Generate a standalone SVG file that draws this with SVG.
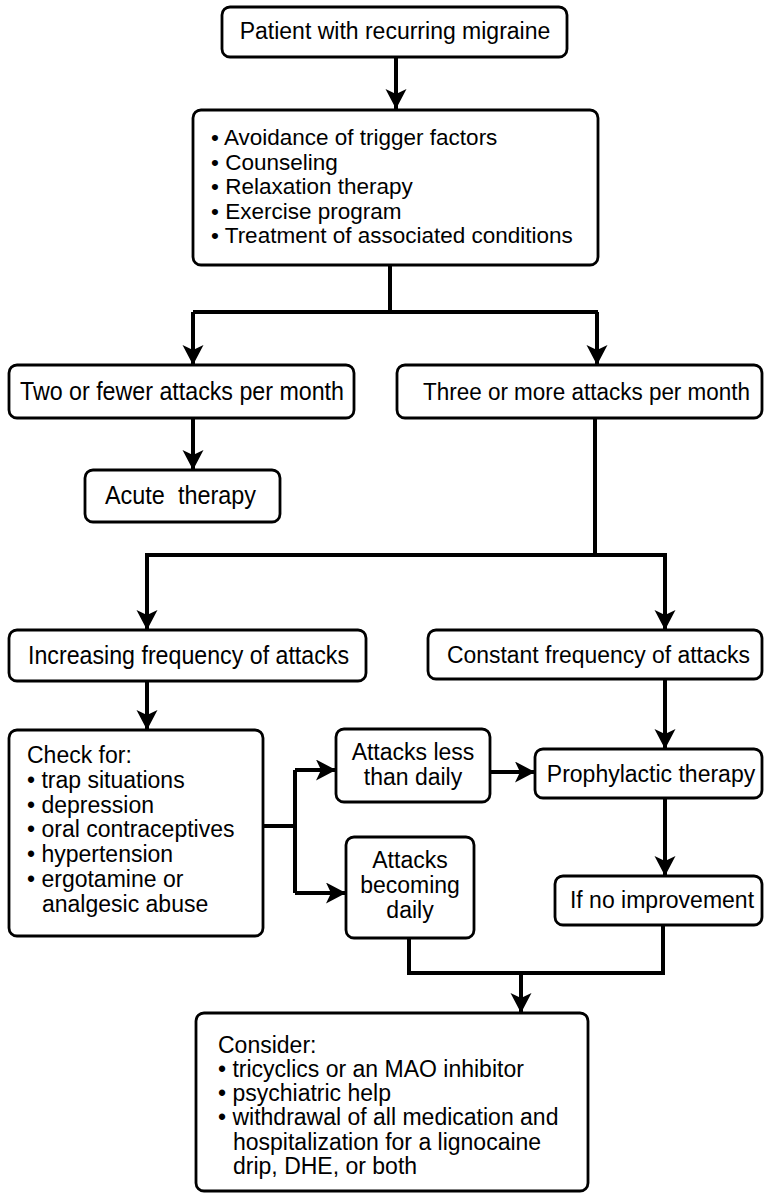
<svg xmlns="http://www.w3.org/2000/svg" width="765" height="1194" viewBox="0 0 765 1194">
<style>
.box{fill:#fff;stroke:#000;stroke-width:2.8}
.t{font-family:"Liberation Sans",Arial,sans-serif;font-size:23px;fill:#000}
.b{font-size:22.5px}
.k{font-family:"Liberation Sans",Arial,sans-serif;font-size:26px;fill:#000;white-space:pre}
.c{text-anchor:middle}
.cn{fill:none;stroke:#000;stroke-width:4;stroke-linejoin:miter}
</style>
<defs>
<marker id="ah" markerUnits="userSpaceOnUse" markerWidth="24" markerHeight="24" refX="20" refY="10.5" orient="auto">
<path d="M0,0 L20,10.5 L0,21 L5,10.5 z" fill="#000"/>
</marker>
</defs>
<rect width="765" height="1194" fill="#fff"/>
<g id="connectors">
<path class="cn" d="M396,57 V109" marker-end="url(#ah)"/>
<path class="cn" d="M390,265 V312"/>
<path class="cn" d="M193,312 H598"/>
<path class="cn" d="M193,312 V365" marker-end="url(#ah)"/>
<path class="cn" d="M597,312 V365" marker-end="url(#ah)"/>
<path class="cn" d="M193,418 V470" marker-end="url(#ah)"/>
<path class="cn" d="M595,418 V555"/>
<path class="cn" d="M145,555 H667"/>
<path class="cn" d="M147,555 V630" marker-end="url(#ah)"/>
<path class="cn" d="M665,555 V630" marker-end="url(#ah)"/>
<path class="cn" d="M147,681 V730" marker-end="url(#ah)"/>
<path class="cn" d="M665,679 V749" marker-end="url(#ah)"/>
<path class="cn" d="M263,826 H295"/>
<path class="cn" d="M295,770 V893"/>
<path class="cn" d="M295,770 H336" marker-end="url(#ah)"/>
<path class="cn" d="M295,893 H346" marker-end="url(#ah)"/>
<path class="cn" d="M490,772 H535" marker-end="url(#ah)"/>
<path class="cn" d="M665,798 V876" marker-end="url(#ah)"/>
<path class="cn" d="M409,938 V973 H663 V925"/>
<path class="cn" d="M521,973 V1013" marker-end="url(#ah)"/>
</g>
<g id="n1">
<rect class="box" x="222" y="7" width="345" height="50" rx="8"/>
<text class="t c" x="395" y="39">Patient with recurring migraine</text>
</g>
<g id="n2">
<rect class="box" x="193" y="110" width="405" height="155" rx="8"/>
<text class="t b" x="211" y="145">• Avoidance of trigger factors</text>
<text class="t b" x="211" y="169.5">• Counseling</text>
<text class="t b" x="211" y="194">• Relaxation therapy</text>
<text class="t b" x="211" y="218.5">• Exercise program</text>
<text class="t b" x="211" y="243">• Treatment of associated conditions</text>
</g>
<g id="n3">
<rect class="box" x="9" y="365" width="345" height="53" rx="8"/>
<text class="k" x="20" y="400" textLength="324" lengthAdjust="spacingAndGlyphs">Two or fewer attacks per month</text>
</g>
<g id="n4">
<rect class="box" x="397" y="365" width="365" height="53" rx="8"/>
<text class="t" x="423" y="400" textLength="327" lengthAdjust="spacingAndGlyphs">Three or more attacks per month</text>
</g>
<g id="n5">
<rect class="box" x="85" y="470" width="195" height="52" rx="8"/>
<text class="k" x="105" y="504" textLength="151" lengthAdjust="spacingAndGlyphs">Acute  therapy</text>
</g>
<g id="n6">
<rect class="box" x="9" y="630" width="357" height="51" rx="8"/>
<text class="k" x="28" y="664" textLength="321" lengthAdjust="spacingAndGlyphs">Increasing frequency of attacks</text>
</g>
<g id="n7">
<rect class="box" x="428" y="630" width="334" height="49" rx="8"/>
<text class="t" x="447" y="663" textLength="303" lengthAdjust="spacingAndGlyphs">Constant frequency of attacks</text>
</g>
<g id="n8">
<rect class="box" x="9" y="730" width="254" height="206" rx="8"/>
<text class="t" x="27" y="763">Check for:</text>
<text class="t" x="27" y="788">• trap situations</text>
<text class="t" x="27" y="813">• depression</text>
<text class="t" x="27" y="837">• oral contraceptives</text>
<text class="t" x="27" y="862">• hypertension</text>
<text class="t" x="27" y="887">• ergotamine or</text>
<text class="t" x="42" y="912">analgesic abuse</text>
</g>
<g id="n9">
<rect class="box" x="336" y="729" width="154" height="73" rx="8"/>
<text class="t c" x="413" y="760">Attacks less</text>
<text class="t c" x="413" y="785">than daily</text>
</g>
<g id="n10">
<rect class="box" x="535" y="749" width="227" height="49" rx="8"/>
<text class="t c" x="651" y="782">Prophylactic therapy</text>
</g>
<g id="n11">
<rect class="box" x="346" y="837" width="128" height="101" rx="8"/>
<text class="t c" x="410" y="868">Attacks</text>
<text class="t c" x="410" y="893">becoming</text>
<text class="t c" x="410" y="918">daily</text>
</g>
<g id="n12">
<rect class="box" x="555" y="876" width="207" height="49" rx="8"/>
<text class="t c" x="662" y="908">If no improvement</text>
</g>
<g id="n13">
<rect class="box" x="196" y="1013" width="392" height="178" rx="8"/>
<text class="t" x="218" y="1053">Consider:</text>
<text class="t" x="218" y="1077">• tricyclics or an MAO inhibitor</text>
<text class="t" x="218" y="1101">• psychiatric help</text>
<text class="t" x="218" y="1125">• withdrawal of all medication and</text>
<text class="t" x="233" y="1150">hospitalization for a lignocaine</text>
<text class="t" x="233" y="1174">drip, DHE, or both</text>
</g>
</svg>
